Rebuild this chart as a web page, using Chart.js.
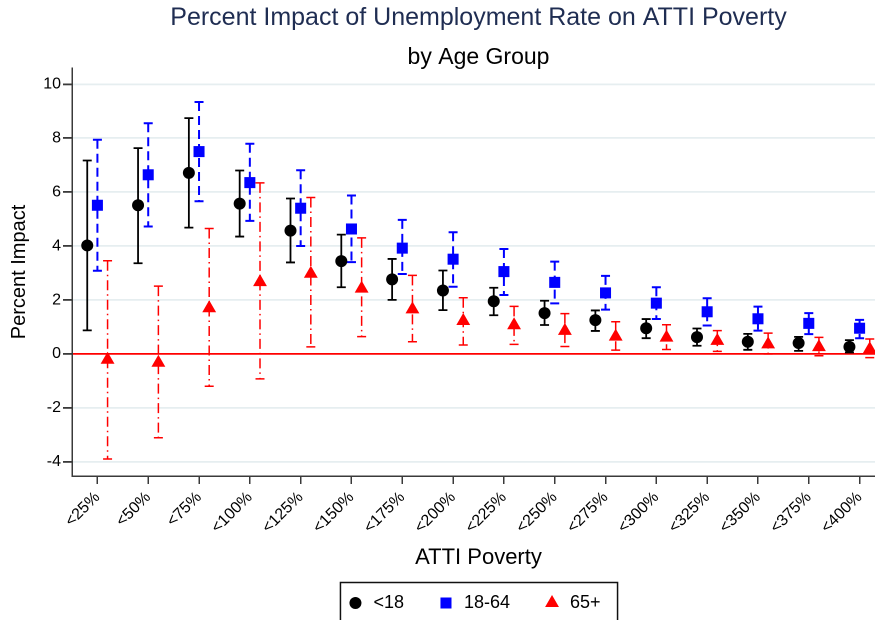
<!DOCTYPE html>
<html lang="en">
<head>
    <meta charset="UTF-8">
    <title>Percent Impact of Unemployment Rate on ATTI Poverty</title>
    <script src="https://cdn.jsdelivr.net/npm/chart.js"></script>
    <style>
        html, body { margin: 0; padding: 0; background: #fff; overflow: hidden; }
        #wrap { width: 875px; height: 620px; overflow: hidden; }
    </style>
</head>
<body>
    <div id="wrap">
        <canvas id="impact-chart" width="905" height="622"></canvas>
    </div>

    <script>
        // ATTI poverty bands
        const categories = ['<25%', '<50%', '<75%', '<100%', '<125%', '<150%', '<175%', '<200%',
                            '<225%', '<250%', '<275%', '<300%', '<325%', '<350%', '<375%', '<400%'];

        // <18
        const kids   = [4.02, 5.51, 6.71, 5.57, 4.57, 3.44, 2.76, 2.35, 1.95, 1.51, 1.25, 0.95, 0.62, 0.45, 0.40, 0.26];
        const kidsLo = [0.87, 3.36, 4.68, 4.35, 3.39, 2.47, 2.00, 1.62, 1.43, 1.07, 0.85, 0.58, 0.30, 0.15, 0.11, 0.05];
        const kidsHi = [7.17, 7.63, 8.74, 6.80, 5.76, 4.42, 3.52, 3.09, 2.45, 1.97, 1.61, 1.29, 0.94, 0.74, 0.63, 0.51];

        // 18-64
        const adults   = [5.51, 6.64, 7.50, 6.35, 5.40, 4.63, 3.92, 3.51, 3.05, 2.65, 2.26, 1.88, 1.56, 1.30, 1.13, 0.95];
        const adultsLo = [3.08, 4.72, 5.66, 4.93, 4.00, 3.40, 2.96, 2.49, 2.18, 1.87, 1.64, 1.29, 1.05, 0.86, 0.73, 0.58];
        const adultsHi = [7.94, 8.55, 9.34, 7.79, 6.81, 5.87, 4.97, 4.51, 3.89, 3.42, 2.89, 2.47, 2.06, 1.75, 1.51, 1.26];

        // 65+
        const seniors   = [-0.22, -0.33, 1.69, 2.66, 2.97, 2.42, 1.65, 1.22, 1.06, 0.85, 0.64, 0.60, 0.48, 0.35, 0.25, 0.17];
        const seniorsLo = [-3.90, -3.11, -1.20, -0.93, 0.26, 0.64, 0.45, 0.33, 0.35, 0.27, 0.14, 0.16, 0.09, 0.00, -0.07, -0.14];
        const seniorsHi = [3.45, 2.51, 4.65, 6.34, 5.80, 4.30, 2.91, 2.08, 1.76, 1.49, 1.19, 1.08, 0.86, 0.77, 0.61, 0.55];

        const yTicks = [-4, -2, 0, 2, 4, 6, 8, 10];
        const yMin = -4.53;
        const yMax = 10.6;

        const FONT = "'Liberation Sans', Arial, Helvetica, sans-serif";
        const AXIS = '#3a3a3a';

        function points(values, shift) {
            return values.map((v, i) => ({ x: i + shift, y: v }));
        }

        // draw the confidence bars under the markers
        const errorBars = {
            id: 'errorBars',
            beforeDatasetsDraw(chart) {
                const { ctx, scales: { x, y } } = chart;
                chart.data.datasets.forEach((ds) => {
                    ctx.save();
                    ctx.strokeStyle = ds.barColor;
                    ctx.lineWidth = ds.barWidth;
                    ds.data.forEach((p, i) => {
                        const px = x.getPixelForValue(p.x);
                        const top = y.getPixelForValue(ds.hi[i]);
                        const bot = y.getPixelForValue(ds.lo[i]);
                        ctx.setLineDash(ds.barDash);
                        ctx.beginPath();
                        ctx.moveTo(px, top);
                        ctx.lineTo(px, bot);
                        ctx.stroke();
                        ctx.setLineDash([]);
                        ctx.beginPath();
                        ctx.moveTo(px - 4.5, top);
                        ctx.lineTo(px + 4.5, top);
                        ctx.moveTo(px - 4.5, bot);
                        ctx.lineTo(px + 4.5, bot);
                        ctx.stroke();
                    });
                    ctx.restore();
                });
            }
        };

        // legend markers at plot size, plus the box round the legend
        const legendFrame = {
            id: 'legendFrame',
            afterLayout(chart) {
                // nudge the legend row a little left, as in the original
                if (chart.legend) {
                    chart.legend.left -= 5;
                    chart.legend.right -= 5;
                }
            },
            afterDraw(chart) {
                const boxes = chart.legend && chart.legend.legendHitBoxes;
                if (!boxes || !boxes.length) return;
                const ctx = chart.ctx;
                const boxW = chart.legend.options.labels.boxWidth;
                ctx.save();
                boxes.forEach((b, i) => {
                    const ds = chart.data.datasets[i];
                    ctx.fillStyle = ds.backgroundColor;
                    Chart.helpers.drawPoint(ctx, {
                        pointStyle: ds.pointStyle, radius: ds.pointRadius, rotation: 0, borderWidth: 0
                    }, b.left + boxW / 2, b.top + b.height / 2);
                });
                const left = Math.min(...boxes.map(b => b.left)) - 6;
                const right = Math.max(...boxes.map(b => b.left + b.width)) + 17;
                const top = Math.min(...boxes.map(b => b.top)) - 11.5;
                ctx.strokeStyle = '#111';
                ctx.lineWidth = 1.5;
                ctx.strokeRect(left, top, right - left, chart.height - top + 10);
                ctx.restore();
            }
        };

        const ctx = document.getElementById('impact-chart').getContext('2d');
        new Chart(ctx, {
            type: 'scatter',
            data: {
                datasets: [
                    {
                        label: '<18',
                        data: points(kids, -0.2),
                        lo: kidsLo, hi: kidsHi,
                        pointStyle: 'circle', pointRadius: 6,
                        backgroundColor: '#000', borderColor: '#000', borderWidth: 0,
                        barColor: '#000', barWidth: 1.8, barDash: []
                    },
                    {
                        label: '18-64',
                        data: points(adults, 0),
                        lo: adultsLo, hi: adultsHi,
                        pointStyle: 'rect', pointRadius: 7.8,
                        backgroundColor: '#0000ff', borderColor: '#0000ff', borderWidth: 0,
                        barColor: '#0000ff', barWidth: 2, barDash: [9, 5]
                    },
                    {
                        label: '65+',
                        data: points(seniors, 0.2),
                        lo: seniorsLo, hi: seniorsHi,
                        pointStyle: 'triangle', pointRadius: 8,
                        backgroundColor: '#ff0000', borderColor: '#ff0000', borderWidth: 0,
                        barColor: '#ff0000', barWidth: 1.5, barDash: [10, 4, 1.5, 4]
                    }
                ]
            },
            options: {
                responsive: false,
                animation: false,
                devicePixelRatio: 2,
                layout: { padding: { left: 0, right: 20, top: 0, bottom: 0 } },
                plugins: {
                    tooltip: { enabled: false },
                    title: {
                        display: true,
                        text: 'Percent Impact of Unemployment Rate on ATTI Poverty',
                        fullSize: false,
                        color: '#1f2d52',
                        font: { family: FONT, size: 25, weight: 'normal', lineHeight: 1 },
                        padding: { top: 5.5, bottom: 15.5 }
                    },
                    subtitle: {
                        display: true,
                        text: 'by Age Group',
                        fullSize: false,
                        color: '#000',
                        font: { family: FONT, size: 23, weight: 'normal', lineHeight: 1 },
                        padding: { top: 0, bottom: -1 }
                    },
                    legend: {
                        position: 'bottom',
                        fullSize: false,
                        labels: {
                            usePointStyle: true,
                            boxWidth: 18,
                            boxHeight: 9,
                            padding: 33,
                            color: '#000',
                            font: { family: FONT, size: 18 },
                            // markers are painted by legendFrame
                            generateLabels: (chart) => Chart.defaults.plugins.legend.labels.generateLabels(chart)
                                .map(l => ({ ...l, fillStyle: 'rgba(0,0,0,0)', strokeStyle: 'rgba(0,0,0,0)', lineWidth: 0 }))
                        }
                    }
                },
                scales: {
                    x: {
                        type: 'linear',
                        min: -0.5,
                        max: categories.length - 0.5,
                        afterBuildTicks: (scale) => {
                            scale.ticks = categories.map((c, i) => ({ value: i }));
                        },
                        afterFit: (scale) => { scale.height = 85; },
                        ticks: {
                            autoSkip: false,
                            maxRotation: 45,
                            minRotation: 45,
                            padding: 4,
                            color: '#000',
                            font: { family: FONT, size: 16 },
                            callback: (v) => categories[v]
                        },
                        grid: {
                            drawOnChartArea: false,
                            tickLength: 8,
                            tickColor: AXIS,
                            lineWidth: 1.5
                        },
                        border: { display: true, color: AXIS, width: 1.5 },
                        title: {
                            display: true,
                            text: 'ATTI Poverty',
                            color: '#000',
                            font: { family: FONT, size: 22 },
                            padding: { top: 0, bottom: -10.2 }
                        }
                    },
                    y: {
                        min: yMin,
                        max: yMax,
                        afterBuildTicks: (scale) => {
                            scale.ticks = yTicks.map(v => ({ value: v }));
                        },
                        afterFit: (scale) => { scale.width = 72; },
                        ticks: {
                            padding: 2,
                            color: '#000',
                            font: { family: FONT, size: 16 }
                        },
                        grid: {
                            color: (c) => (c.tick && c.tick.value === 0 ? '#ff0000' : '#e6eef0'),
                            lineWidth: 1.8,
                            tickColor: AXIS,
                            tickLength: 9
                        },
                        border: { display: true, color: AXIS, width: 1.5 },
                        title: {
                            display: true,
                            text: 'Percent Impact',
                            color: '#000',
                            font: { family: FONT, size: 20 },
                            padding: { top: 7.5, bottom: 0 }
                        }
                    }
                }
            },
            plugins: [errorBars, legendFrame]
        });
    </script>
</body>
</html>
